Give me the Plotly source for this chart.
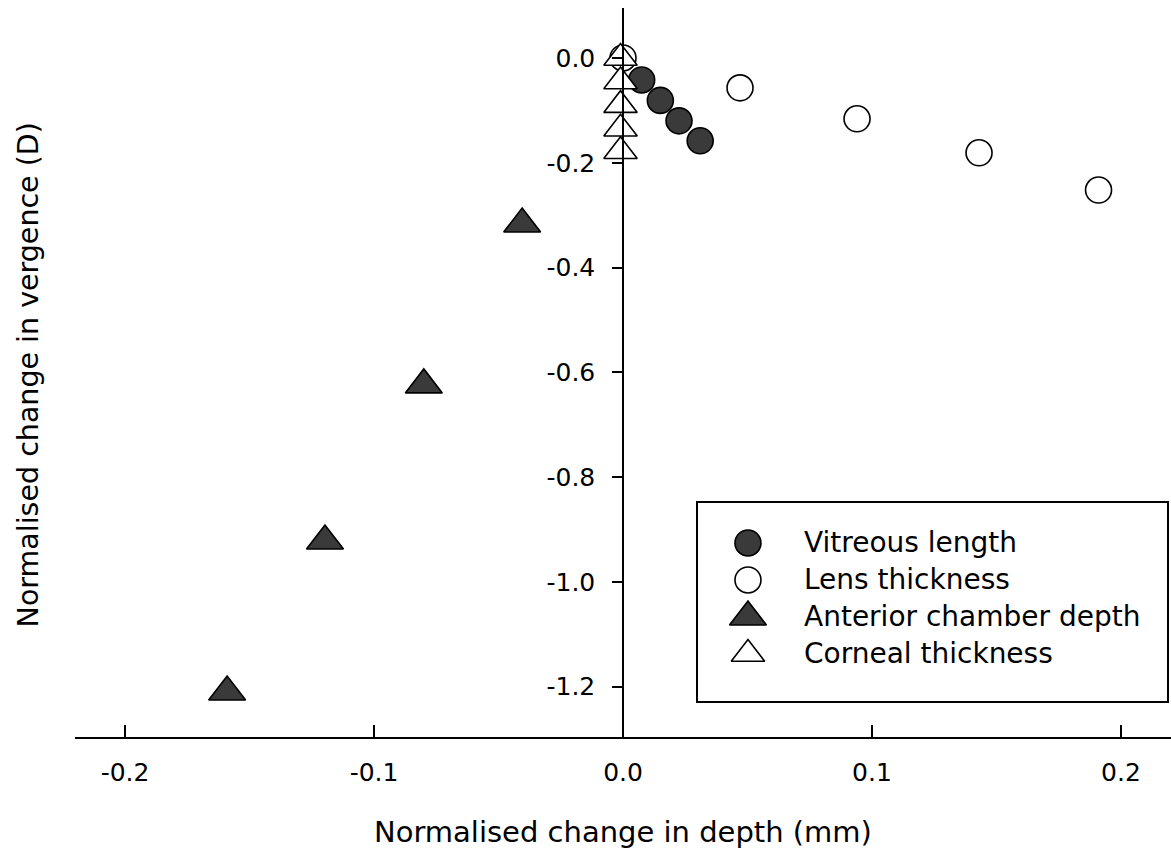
import plotly.graph_objects as go

# Normalised change in depth (mm) and vergence (D) for each ocular component
vitreous_x = [0.0075, 0.015, 0.0225, 0.031]
vitreous_y = [-0.042, -0.081, -0.12, -0.158]

lens_x = [0.0, 0.047, 0.094, 0.143, 0.191]
lens_y = [0.0, -0.057, -0.116, -0.181, -0.252]

acd_x = [-0.0405, -0.080, -0.1197, -0.159]
acd_y = [-0.317, -0.624, -0.922, -1.21]

cornea_x = [-0.001, -0.001, -0.001, -0.001, -0.001]
cornea_y = [0.0, -0.045, -0.09, -0.135, -0.178]

x_ticks = [-0.2, -0.1, 0.0, 0.1, 0.2]
x_tick_labels = ["-0.2", "-0.1", "0.0", "0.1", "0.2"]
y_ticks = [-1.2, -1.0, -0.8, -0.6, -0.4, -0.2, 0.0]
y_tick_labels = ["-1.2", "-1.0", "-0.8", "-0.6", "-0.4", "-0.2", "0.0"]

FONT = "DejaVu Sans"
DARK = "#3a3a3a"

series = {
    "Vitreous length": dict(x=vitreous_x, y=vitreous_y, symbol="circle", fill=DARK, size=26),
    "Lens thickness": dict(x=lens_x, y=lens_y, symbol="circle", fill="white", size=26),
    "Anterior chamber depth": dict(x=acd_x, y=acd_y, symbol="triangle-up", fill=DARK, size=32),
    "Corneal thickness": dict(x=cornea_x, y=cornea_y, symbol="triangle-up", fill="white", size=29),
}
legend_order = ["Vitreous length", "Lens thickness", "Anterior chamber depth", "Corneal thickness"]
draw_order = ["Lens thickness", "Vitreous length", "Anterior chamber depth", "Corneal thickness"]

fig = go.Figure()

for name in draw_order:
    s = series[name]
    fig.add_trace(go.Scatter(
        x=s["x"], y=s["y"], mode="markers", name=name, showlegend=False,
        marker=dict(symbol=s["symbol"], size=s["size"], color=s["fill"],
                    line=dict(color="black", width=1.6)),
        xaxis="x", yaxis="y",
    ))

# Key drawn on its own small axes: one row per series
for i, name in enumerate(legend_order):
    s = series[name]
    fig.add_trace(go.Scatter(
        x=[0.1066], y=[i], mode="markers", showlegend=False, hoverinfo="skip",
        marker=dict(symbol=s["symbol"], size=s["size"], color=s["fill"],
                    line=dict(color="black", width=1.6)),
        xaxis="x2", yaxis="y2",
    ))
    fig.add_annotation(
        x=0.2217, y=i, xref="x2", yref="y2", text=name, showarrow=False,
        xanchor="left", yanchor="middle",
        font=dict(family=FONT, size=28, color="black"),
    )

x_min, x_max = -0.2201, 0.2201

fig.update_layout(
    width=1171, height=856,
    margin=dict(l=75, r=0, t=8, b=119),
    paper_bgcolor="white", plot_bgcolor="white",
    showlegend=False,
    font=dict(family=FONT, color="black"),
    xaxis=dict(
        range=[x_min, x_max], domain=[0, 1],
        tickvals=x_ticks, ticktext=x_tick_labels,
        ticks="inside", ticklen=12, tickwidth=1.5, tickcolor="black",
        showline=True, linecolor="black", linewidth=2,
        showgrid=False, zeroline=False,
        tickfont=dict(family=FONT, size=25, color="black"),
        ticklabelstandoff=12,
    ),
    yaxis=dict(
        range=[-1.296, 0.0954], domain=[0, 1],
        anchor="free", position=(0 - x_min) / (x_max - x_min),
        tickvals=y_ticks, ticktext=y_tick_labels,
        ticks="outside", ticklen=10, tickwidth=1.5, tickcolor="black",
        showline=True, linecolor="black", linewidth=1.5,
        showgrid=False, zeroline=False,
        tickfont=dict(family=FONT, size=25, color="black"),
        ticklabelstandoff=12,
    ),
    xaxis2=dict(
        domain=[0.5684, 0.9964], range=[0, 1], anchor="y2",
        showline=True, mirror=True, linecolor="black", linewidth=1.5,
        showticklabels=False, ticks="", showgrid=False, zeroline=False,
    ),
    yaxis2=dict(
        domain=[0.0494, 0.321], range=[4.27, -1.081], anchor="x2",
        showline=True, mirror=True, linecolor="black", linewidth=1.5,
        showticklabels=False, ticks="", showgrid=False, zeroline=False,
    ),
)

fig.add_annotation(
    text="Normalised change in depth (mm)", xref="paper", yref="paper",
    x=0.5, y=0, xanchor="center", yanchor="middle", yshift=-95,
    showarrow=False, font=dict(family=FONT, size=29, color="black"),
)
fig.add_annotation(
    text="Normalised change in vergence (D)", xref="paper", yref="paper",
    x=0, y=0.496, xanchor="center", yanchor="middle", xshift=-47, textangle=-90,
    showarrow=False, font=dict(family=FONT, size=28.5, color="black"),
)

fig.write_html("out.html")
